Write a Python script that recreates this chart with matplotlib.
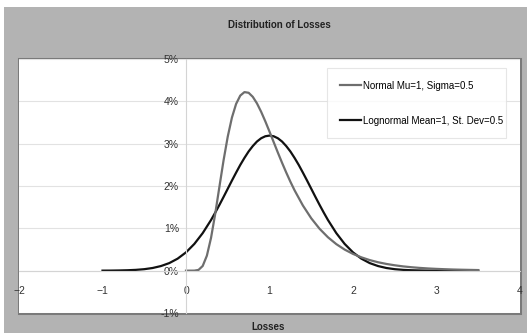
import numpy as np
import matplotlib
matplotlib.use("Agg")
import matplotlib.pyplot as plt
from matplotlib.patches import Rectangle
from matplotlib.ticker import FuncFormatter

plt.rcParams['font.family'] = ['Liberation Sans', 'DejaVu Sans']

# black curve (values in %)
x_black = [-1.0, -0.9, -0.8, -0.7, -0.6, -0.5, -0.4, -0.3, -0.2, -0.1,
           0.0, 0.1, 0.2, 0.3, 0.35, 0.4, 0.45, 0.5, 0.55, 0.6, 0.65, 0.7, 0.75,
           0.8, 0.85, 0.9, 0.95, 1.0, 1.05, 1.1, 1.15, 1.2, 1.25, 1.3, 1.35,
           1.4, 1.45, 1.5, 1.55, 1.6, 1.65, 1.7, 1.8, 1.9,
           2.0, 2.1, 2.2, 2.3, 2.4, 2.5, 2.6, 2.7, 2.8, 2.9,
           3.0, 3.1, 3.2, 3.3, 3.4, 3.5]
y_black = [0.001, 0.002, 0.005, 0.010, 0.019, 0.035, 0.063, 0.109, 0.179, 0.284,
           0.432, 0.632, 0.887, 1.197, 1.371, 1.553, 1.742, 1.935, 2.128, 2.316, 2.498, 2.664, 2.816,
           2.944, 3.051, 3.128, 3.175, 3.191, 3.175, 3.128, 3.051, 2.944, 2.816, 2.664, 2.498,
           2.316, 2.128, 1.935, 1.742, 1.553, 1.371, 1.197, 0.887, 0.632,
           0.432, 0.284, 0.179, 0.109, 0.063, 0.035, 0.019, 0.010, 0.005, 0.002,
           0.001, 0.0, 0.0, 0.0, 0.0, 0.0]

# gray curve (values in %)
x_gray = [0.0, 0.1, 0.15, 0.2, 0.25, 0.3, 0.35, 0.4, 0.45, 0.5, 0.55, 0.6, 0.65,
          0.7, 0.75, 0.8, 0.85, 0.9, 0.95, 1.0, 1.05, 1.1, 1.15, 1.2, 1.25,
          1.3, 1.4, 1.5, 1.6, 1.7, 1.8, 1.9,
          2.0, 2.1, 2.2, 2.3, 2.4, 2.5, 2.6, 2.7, 2.8, 2.9,
          3.0, 3.1, 3.2, 3.3, 3.4, 3.5]
y_gray = [0.0, 0.001, 0.018, 0.111, 0.354, 0.777, 1.343, 1.980, 2.608, 3.167, 3.616, 3.939, 4.136,
          4.218, 4.202, 4.106, 3.951, 3.753, 3.527, 3.285, 3.037, 2.790, 2.550, 2.320, 2.102,
          1.899, 1.539, 1.237, 0.989, 0.789, 0.627, 0.498,
          0.396, 0.315, 0.250, 0.199, 0.159, 0.127, 0.101, 0.081, 0.065, 0.052,
          0.042, 0.034, 0.027, 0.022, 0.018, 0.014]

labels = ["Normal Mu=1, Sigma=0.5", "Lognormal Mean=1, St. Dev=0.5"]
x_ticks = [-2, -1, 0, 1, 2, 3, 4]
y_ticks = [-1, 0, 1, 2, 3, 4, 5]

W, H = 527, 333
fig = plt.figure(figsize=(W / 100, H / 100), dpi=100, facecolor='white')
fig.patches.append(Rectangle((4 / W, 0), 1 - 4 / W, 1 - 7 / H, transform=fig.transFigure,
                             facecolor='#b3b3b3', edgecolor='none', zorder=-10))

ax_box = [19 / W, 20 / H, 501 / W, 254 / H]
# plot area border, drawn under the axes so tick labels sit on top
fig.patches.append(Rectangle((ax_box[0], ax_box[1]), ax_box[2], ax_box[3],
                             transform=fig.transFigure, facecolor='white',
                             edgecolor='#7a7a7a', linewidth=2.2, zorder=-5))

ax = fig.add_axes(ax_box)
ax.set_facecolor('white')
ax.set_xlim(-2, 4)
ax.set_ylim(-1, 5)

for s in ['top', 'right']:
    ax.spines[s].set_visible(False)
for s in ['left', 'bottom']:
    ax.spines[s].set_position(('data', 0))
    ax.spines[s].set_color('#d4d4d4')
    ax.spines[s].set_linewidth(0.8)

ax.set_yticks(y_ticks)
ax.set_xticks(x_ticks)
ax.yaxis.set_major_formatter(FuncFormatter(lambda v, p: '%d%%' % v))
ax.tick_params(axis='both', length=0, labelsize=7.5, colors='#333333')
ax.tick_params(axis='x', pad=11)
ax.tick_params(axis='y', pad=5)
ax.grid(axis='y', color='#e2e2e2', linewidth=0.8)
ax.set_axisbelow(True)

l2, = ax.plot(x_black, y_black, color='#111111', linewidth=1.6, label=labels[1])
l1, = ax.plot(x_gray, y_gray, color='#6e6e6e', linewidth=1.6, label=labels[0])

leg = ax.legend(handles=[l1, l2], loc='upper left',
                bbox_to_anchor=(0.615, 0.0, 0.357, 0.965), mode='expand',
                fontsize=7, frameon=True, fancybox=False, handlelength=2.2,
                handletextpad=0.2, labelspacing=2.6, borderpad=1.3, borderaxespad=0)
leg.get_frame().set_edgecolor('#e0e0e0')
leg.get_frame().set_linewidth(0.8)

fig.text(279 / W, 1 - 25 / H, 'Distribution of Losses', ha='center', va='center',
         fontsize=7, fontweight='bold', color='#222222')
fig.text(268 / W, 1 - 327 / H, 'Losses', ha='center', va='center',
         fontsize=7, fontweight='bold', color='#222222')

fig.savefig('out.png', dpi=100, facecolor=fig.get_facecolor())
